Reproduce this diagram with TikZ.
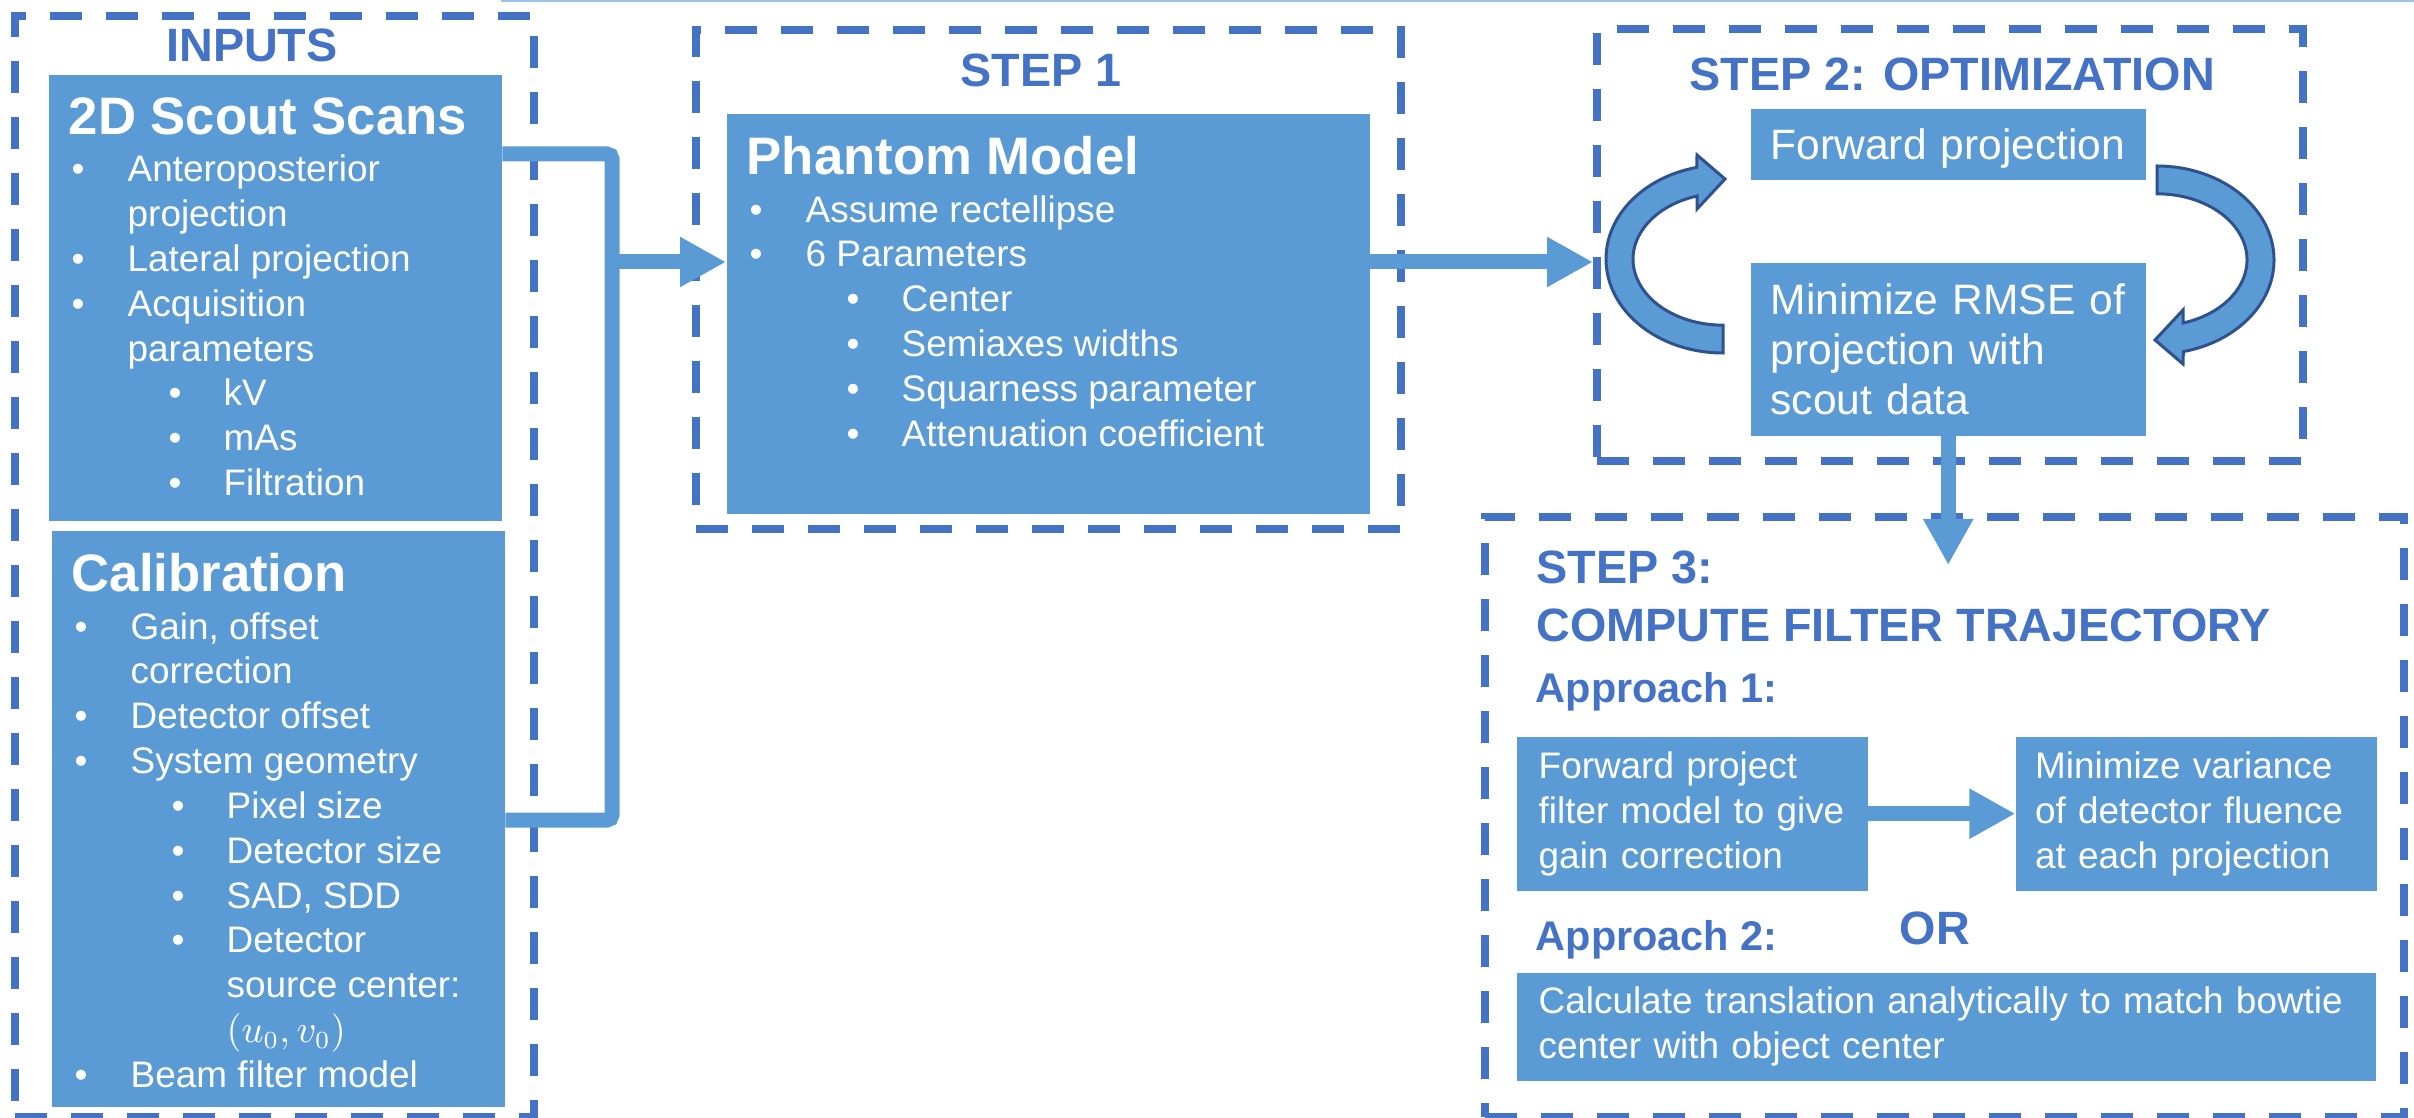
\documentclass[tikz,border=0pt]{standalone}
\usepackage{fontspec}
\setmainfont{Liberation Sans}
\usepackage{tikz}
\usetikzlibrary{arrows.meta, positioning}
\definecolor{BoxBlue}{RGB}{91, 155, 213}
\definecolor{FrameBlue}{RGB}{68, 114, 196}
\definecolor{EdgeBlue}{RGB}{47, 82, 143}
\definecolor{RuleBlue}{RGB}{157, 195, 230}
\newcommand{\bul}{\makebox[0.59cm][l]{\hspace{0.03cm}\textbullet}}
\newcommand{\subbul}{\makebox[1.55cm][l]{\hspace{1.0cm}\textbullet}}
\newcommand{\bulcont}{\hspace*{0.59cm}}
\newcommand{\subcont}{\hspace*{1.55cm}}
\newcommand{\boxtitle}[1]{{\fontsize{15}{18}\selectfont\bfseries #1}\\[0.7pt]}

\begin{document}
\begin{tikzpicture}[
        dashframe/.style={draw=FrameBlue, line width=0.08cm, dash pattern=on 0.32cm off 0.24cm, anchor=north west, inner sep=0},
        head/.style={text=FrameBlue, inner sep=0, font=\bfseries\fontsize{13.3}{16}\selectfont},
        sub/.style={text=FrameBlue, inner sep=0, font=\bfseries\fontsize{11.8}{14}\selectfont},
        box/.style={fill=BoxBlue, text=white, anchor=north west, inner xsep=0.2cm, inner ysep=0.23cm, font=\fontsize{10.5}{12.75}\selectfont},
        flow/.style={fill=BoxBlue, text=white, anchor=north west, align=left, inner xsep=0.2cm, inner ysep=0, font=\fontsize{10.5}{12.75}\selectfont},
        arrow/.style={-{Triangle[length=0.46cm, width=0.47cm]}, line width=0.15cm, BoxBlue},
        pipe/.style={line width=0.15cm, BoxBlue, rounded corners=0.05cm},
        cycarrow/.style={fill=BoxBlue, draw=EdgeBlue, line width=0.03cm}
    ]
        \useasboundingbox (0,0) rectangle (24.14,-11.18);
        \draw[RuleBlue, line width=0.02cm] (5.01,-0.01) -- (24.14,-0.01);

        % Dashed frames
        \node[dashframe, minimum width=5.19cm, minimum height=11.01cm] (inframe) at (0.11,-0.12) {};
        \node[dashframe, minimum width=7.05cm, minimum height=4.99cm] (f1) at (6.92,-0.26) {};
        \node[dashframe, minimum width=7.06cm, minimum height=4.32cm] (f2) at (15.93,-0.25) {};
        \node[dashframe, minimum width=9.19cm, minimum height=6.00cm] (f3) at (14.81,-5.13) {};

        % Inputs
        \node[head, anchor=base] (inputs) at (2.52,-0.62) {INPUTS};
        \node[box] (scout) at (0.48,-0.74) {\parbox[t][4.00cm][t]{4.13cm}{%
            \boxtitle{2D Scout Scans}
            \bul Anteroposterior\\
            \bulcont projection\\
            \bul Lateral projection\\
            \bul Acquisition\\
            \bulcont parameters\\
            \subbul kV\\
            \subbul mAs\\
            \subbul Filtration}};
        \node[box] (calib) at (0.51,-5.30) {\parbox[t][5.30cm][t]{4.13cm}{%
            \boxtitle{Calibration}
            \bul Gain, offset\\
            \bulcont correction\\
            \bul Detector offset\\
            \bul System geometry\\
            \subbul Pixel size\\
            \subbul Detector size\\
            \subbul SAD, SDD\\
            \subbul Detector\\
            \subcont source center:\\
            \subcont $(u_0,v_0)$\\
            \bul Beam filter model}};

        % Step 1
        \node[head, anchor=base] (step1) at (10.41,-0.87) {STEP 1};
        \node[box] (phantom) at (7.26,-1.13) {\parbox[t][3.54cm][t]{6.03cm}{%
            \boxtitle{Phantom Model}
            \bul Assume rectellipse\\
            \bul 6 Parameters\\
            \subbul Center\\
            \subbul Semiaxes widths\\
            \subbul Squarness parameter\\
            \subbul Attenuation coefficient}};

        \coordinate (scoutout) at (0,-1.54);
        \coordinate (calibout) at (0,-8.20);
        \coordinate (bus) at (6.12,-2.62);
        \draw[pipe] (scout.east |- scoutout) -| (bus) |- (calib.east |- calibout);
        \draw[arrow] (bus) -- (bus -| phantom.west);
        \draw[arrow] (phantom.east |- bus) -- (f2.west |- bus);

        % Step 2
        \node[head, anchor=base] (step2) at (19.52,-0.91) {STEP 2: OPTIMIZATION};
        \node[flow, text width=3.55cm, minimum height=0.71cm, text depth=0pt, font=\fontsize{12.1}{14.2}\selectfont] (fproj) at (17.50,-1.08) {Forward projection};
        \node[flow, text width=3.55cm, minimum height=1.73cm, font=\fontsize{12.1}{14.2}\selectfont] (rmse) at (17.50,-2.62) {Minimize RMSE of\\projection with\\scout data};
        \draw[cycarrow] (17.23,-3.53) arc[start angle=270, end angle=103, x radius=1.17, y radius=0.94]
            -- (16.97,-1.55) -- (17.25,-1.79) -- (16.97,-2.09) -- (16.97,-1.96)
            arc[start angle=106.8, end angle=270, x radius=0.90, y radius=0.66] -- cycle;
        \begin{scope}[rotate around={180:(19.40,-2.595)}]
            \draw[cycarrow] (17.23,-3.53) arc[start angle=270, end angle=103, x radius=1.17, y radius=0.94]
                -- (16.97,-1.55) -- (17.25,-1.79) -- (16.97,-2.09) -- (16.97,-1.96)
                arc[start angle=106.8, end angle=270, x radius=0.90, y radius=0.66] -- cycle;
        \end{scope}
        \coordinate (drop) at (0,-5.65);
        \draw[arrow] (rmse.south) -- (rmse.south |- drop);

        % Step 3
        \node[head, anchor=base west] (step3) at (15.36,-5.84) {STEP 3:};
        \node[head, anchor=base west] (compute) at (15.36,-6.41) {COMPUTE FILTER TRAJECTORY};
        \node[sub, anchor=base west] (appr1) at (15.35,-7.02) {Approach 1:};
        \node[flow, inner xsep=0.22cm, text width=3.07cm, minimum height=1.54cm] (fwd) at (15.16,-7.36) {Forward project\\filter model to give\\gain correction};
        \node[flow, inner xsep=0.19cm, text width=3.23cm, minimum height=1.54cm, right=1.47cm of fwd] (minvar) {Minimize variance\\of detector fluence\\at each projection};
        \draw[arrow] (fwd) -- (minvar);
        \node[sub, anchor=base west] (appr2) at (15.35,-9.50) {Approach 2:};
        \node[head, anchor=base west] (or) at (18.99,-9.44) {OR};
        \node[flow, inner xsep=0.22cm, text width=8.15cm, minimum height=1.08cm] (analytic) at (15.16,-9.72) {Calculate translation analytically to match bowtie\\center with object center};
    \end{tikzpicture}
\end{document}
